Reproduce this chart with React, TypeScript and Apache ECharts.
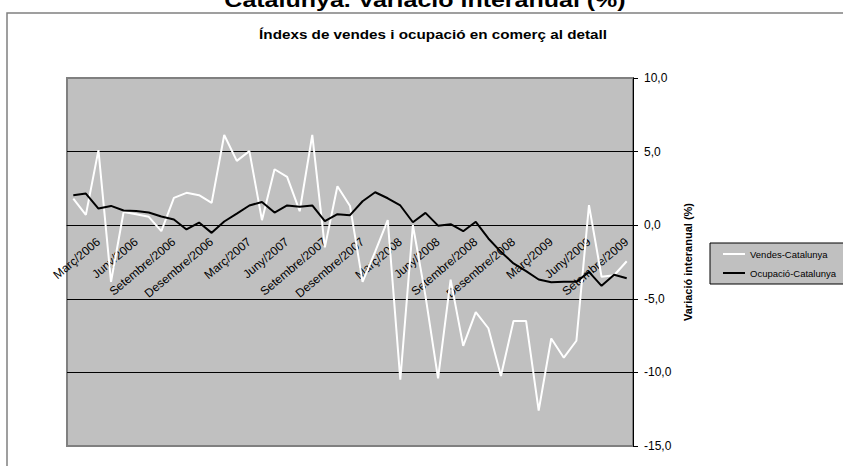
import React, { useEffect, useRef } from "react";
import * as echarts from "echarts";

const monthNames = ["Gener", "Febrer", "Març", "Abril", "Maig", "Juny", "Juliol", "Agost", "Setembre", "Octubre", "Novembre", "Desembre"];
const years = [2006, 2007, 2008, 2009];
const shownMonths = ["Març", "Juny", "Setembre", "Desembre"];
const categories: string[] = [];
years.forEach((y) => monthNames.forEach((m) => categories.push(`${m}/${y}`)));
categories.splice(45);

const vendes = [1.8, 0.7, 5.1, -3.85, 0.9, 0.75, 0.57, -0.4, 1.86, 2.2, 2.04, 1.52, 6.13, 4.37, 5.03, 0.34, 3.8, 3.28, 0.95, 6.13, -1.5, 2.65, 1.31, -3.85, -1.8, 0.34, -10.5, 0.0, -4.8, -10.4, -3.7, -8.2, -5.9, -7.0, -10.25, -6.5, -6.5, -12.6, -7.7, -9.0, -7.85, 1.36, -3.5, -3.4, -2.45];
const ocupacio = [2.04, 2.15, 1.13, 1.31, 1.0, 0.97, 0.86, 0.59, 0.39, -0.29, 0.18, -0.52, 0.25, 0.79, 1.34, 1.58, 0.86, 1.34, 1.25, 1.34, 0.27, 0.75, 0.68, 1.63, 2.24, 1.83, 1.34, 0.2, 0.84, -0.03, 0.07, -0.41, 0.23, -0.9, -1.81, -2.6, -3.12, -3.69, -3.87, -3.85, -3.85, -3.17, -4.12, -3.37, -3.6];

const FONT = "'Liberation Sans', Arial, sans-serif";
const Y_MIN = -15;
const Y_MAX = 10;
const GRID_TOP = 78;
const GRID_BOTTOM = 20;
const CHART_H = 466;

export default function App() {
  const ref = useRef<HTMLDivElement>(null);
  useEffect(() => {
    if (!ref.current) return;
    const chart = echarts.init(ref.current, undefined, { renderer: "svg" });
    const gridH = CHART_H - GRID_TOP - GRID_BOTTOM;
    const zeroOffset = -gridH * (0 - Y_MIN) / (Y_MAX - Y_MIN);
    chart.setOption({
      animation: false,
      backgroundColor: "#ffffff",
      textStyle: { fontFamily: FONT },
      graphic: [
        { type: "rect", shape: { x: 7, y: 13, width: 900, height: 500 }, style: { fill: "none", stroke: "#808080", lineWidth: 1.5 }, silent: true },
        { type: "text", x: 425, y: 10, scaleX: 1.25, style: { text: "Catalunya. Variació interanual (%)", font: `bold 20px ${FONT}`, fill: "#000", textAlign: "center", textVerticalAlign: "bottom" } },
        { type: "text", x: 433, y: 35, scaleX: 1.27, style: { text: "Índexs de vendes i ocupació en comerç al detall", font: `bold 12px ${FONT}`, fill: "#000", textAlign: "center", textVerticalAlign: "middle" } },
      ],
      legend: {
        orient: "vertical",
        left: 710,
        top: 243,
        backgroundColor: "#c0c0c0",
        borderColor: "#000",
        borderWidth: 1,
        padding: [6, 16, 6, 13],
        itemGap: 9,
        itemWidth: 22,
        itemHeight: 2,
        textStyle: { fontSize: 9.5, color: "#000", fontFamily: FONT },
        data: [
          { name: "Vendes-Catalunya", icon: "rect" },
          { name: "Ocupació-Catalunya", icon: "rect" },
        ],
      },
      grid: {
        left: 67,
        top: GRID_TOP,
        right: 210,
        bottom: GRID_BOTTOM,
        show: true,
        backgroundColor: "#c0c0c0",
        borderColor: "#808080",
        borderWidth: 2,
        containLabel: false,
        outerBoundsMode: "none",
      },
      xAxis: {
        type: "category",
        data: categories,
        boundaryGap: true,
        position: "bottom",
        offset: zeroOffset,
        axisLine: { onZero: false, lineStyle: { color: "#000", width: 1 } },
        axisTick: { interval: 0, length: 4, lineStyle: { color: "#000" } },
        axisLabel: {
          interval: 0,
          rotate: 40,
          margin: 15,
          fontSize: 12,
          color: "#000",
          fontFamily: FONT,
          formatter: (v: string) => (shownMonths.includes(v.split("/")[0]) ? v : ""),
        },
        splitLine: { show: false },
      },
      yAxis: {
        type: "value",
        position: "right",
        min: Y_MIN,
        max: Y_MAX,
        interval: 5,
        name: "Variació interanual (%)",
        nameLocation: "middle",
        nameRotate: 90,
        nameGap: 43,
        nameTextStyle: { fontSize: 11, fontWeight: "bold", color: "#000", fontFamily: FONT },
        axisLine: { show: true, lineStyle: { color: "#000", width: 1 } },
        axisTick: { show: true, length: 5, lineStyle: { color: "#000" } },
        axisLabel: {
          fontSize: 12,
          color: "#000",
          margin: 11,
          fontFamily: FONT,
          formatter: (v: number) => v.toFixed(1).replace(".", ","),
        },
        splitLine: { show: true, lineStyle: { color: ["#808080", "#000", "#000", "#000", "#000", "#808080"], width: 1 } },
      },
      series: [
        { name: "Vendes-Catalunya", type: "line", data: vendes, showSymbol: false, lineStyle: { color: "#ffffff", width: 2 }, itemStyle: { color: "#ffffff" }, z: 3 },
        { name: "Ocupació-Catalunya", type: "line", data: ocupacio, showSymbol: false, lineStyle: { color: "#000000", width: 2 }, itemStyle: { color: "#000000" }, z: 4 },
      ],
    });
    return () => chart.dispose();
  }, []);
  return <div ref={ref} style={{ position: "fixed", left: 0, top: 0, width: 843, height: 466 }} />;
}
